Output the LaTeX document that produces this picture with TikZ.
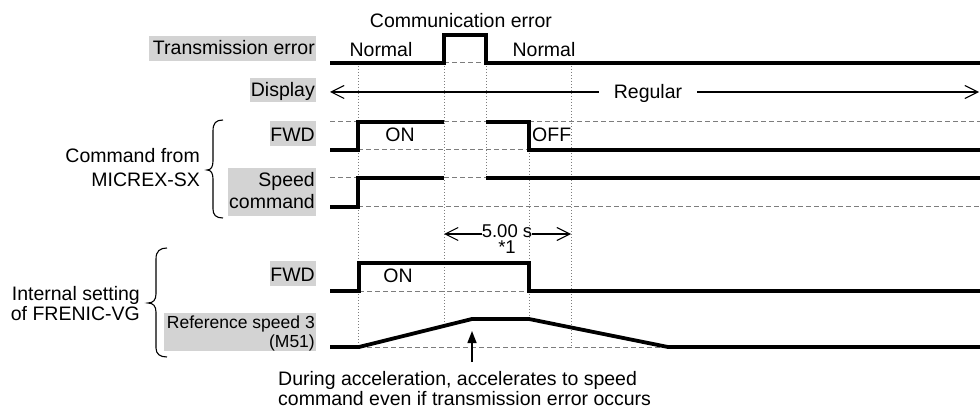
\documentclass[tikz,border=0pt]{standalone}
\usepackage{fontspec}
\setmainfont{Liberation Sans}
\usetikzlibrary{arrows.meta}
\definecolor{lbg}{RGB}{211,211,211}
\definecolor{dgray}{RGB}{125,125,125}
\begin{document}
\begin{tikzpicture}[x=1pt,y=-1pt,
  sig/.style={line width=3.8pt, line join=miter},
  refline/.style={dgray, line width=1pt, dash pattern=on 5pt off 3pt},
  guide/.style={dgray, line width=0.9pt, dash pattern=on 1pt off 2pt},
  txt/.style={font=\fontsize{19.5}{20}\selectfont, inner sep=0pt},
  stxt/.style={font=\fontsize{17.5}{19}\selectfont, inner sep=0pt},
  barb/.style={line width=1.1pt, -{Straight Barb[length=13pt,width=13pt,line width=1.1pt]}},
  bracestyle/.style={line width=1.1pt}]
\useasboundingbox (0,0) rectangle (980,414);

% label backgrounds
\fill[lbg] (149,36) rectangle (316,61);
\fill[lbg] (250,78) rectangle (316,102);
\fill[lbg] (270,121) rectangle (316,146);
\fill[lbg] (228,168) rectangle (316,216);
\fill[lbg] (270,261) rectangle (316,286);
\fill[lbg] (164,313) rectangle (316,351);

% row labels
\node[txt, anchor=base east] (lte) at (315,55) {Transmission error};
\node[txt, anchor=base east] (ldisp) at (315,97) {Display};
\node[txt, anchor=base east] (lfwd1) at (315,142) {FWD};
\node[txt, anchor=base east] (lsp1) at (315,187) {Speed};
\node[txt, anchor=base east] (lsp2) at (315,209) {command};
\node[txt, anchor=base east] (lfwd2) at (315,281) {FWD};
\node[stxt, anchor=base east] (lref1) at (315,328) {Reference speed 3};
\node[stxt, anchor=base east] (lref2) at (315,347) {(M51)};

% group labels
\node[txt, anchor=base east] (gc1) at (200,163) {Command from};
\node[txt, anchor=base east] (gc2) at (200,187) {MICREX-SX};
\node[txt, anchor=base east] (gi1) at (140,300) {Internal setting};
\node[txt, anchor=base east] (gi2) at (140,320) {of FRENIC-VG};

% braces
\draw[bracestyle] (223,120) .. controls (216,120) and (213,123) .. (213,131) -- (213,161)
  .. controls (213,167) and (211,170) .. (207,170)
  .. controls (211,170) and (213,173) .. (213,179) -- (213,209)
  .. controls (213,215) and (216,218) .. (223,218);
\draw[bracestyle] (167,248) .. controls (160,248) and (156,251) .. (156,259) -- (156,294)
  .. controls (156,300) and (153,303) .. (148,303)
  .. controls (153,303) and (156,306) .. (156,312) -- (156,348)
  .. controls (156,354) and (160,357) .. (167,357);

% guide (dotted) vertical lines
\draw[guide] (358,63) -- (358,347);
\draw[guide] (444,63) -- (444,326);
\draw[guide] (486,63) -- (486,178);
\draw[guide] (529,150) -- (529,319);
\draw[guide] (571,63) -- (571,347);

% dashed reference levels
\draw[refline] (444,63) -- (486,63);
\draw[refline] (330,122) -- (358,122);
\draw[refline] (444,122) -- (486,122);
\draw[refline] (529,122) -- (980,122);
\draw[refline] (358,150) -- (529,150);
\draw[refline] (330,178) -- (358,178);
\draw[refline] (444,178) -- (486,178);
\draw[refline] (358,207) -- (980,207);
\draw[refline] (359,291) -- (529,291);
\draw[refline] (359,347) -- (668,347);

% signals
\draw[sig] (330,63) -- (444,63) -- (444,35) -- (486,35) -- (486,63) -- (980,63);
\draw[sig] (330,150) -- (358,150) -- (358,122) -- (444,122);
\draw[sig] (486,122) -- (529,122) -- (529,150) -- (980,150);
\draw[sig] (330,207) -- (358,207) -- (358,178) -- (444,178);
\draw[sig] (486,178) -- (980,178);
\draw[sig] (330,291) -- (359,291) -- (359,263) -- (529,263) -- (529,291) -- (980,291);
\draw[sig] (330,347) -- (359,347) -- (472,319) -- (529,319) -- (668,347) -- (980,347);

% signal texts
\node[txt, anchor=base] (comm) at (461,28) {Communication error};
\node[txt, anchor=base] (nrm1) at (381,57) {Normal};
\node[txt, anchor=base] (nrm2) at (544,57) {Normal};
\node[txt, anchor=base] (on1) at (400,142) {ON};
\node[txt, anchor=base west] (off1) at (532,142) {OFF};
\node[txt, anchor=base] (on2) at (398,282) {ON};

% display arrow
\node[txt, anchor=base, inner xsep=15pt] (reg) at (648,99) {Regular};
\coordinate (dl) at (330,92);
\coordinate (dr) at (979,92);
\draw[barb] (reg.west |- dl) -- (dl);
\draw[barb] (reg.east |- dr) -- (dr);

% 5.00 s timer
\node[font=\fontsize{18.5}{19}\selectfont, inner sep=0pt, anchor=base] (tmr) at (507,237) {5.00 s};
\node[font=\fontsize{18.5}{19}\selectfont, inner sep=0pt, anchor=base] (star) at (507,254) {*1};
\coordinate (tl) at (444,234);
\coordinate (tr) at (571,234);
\draw[barb] (tmr.west |- tl) -- (tl);
\draw[barb] (tmr.east |- tr) -- (tr);

% annotation
\coordinate (ptip) at (472,331);
\node[txt, anchor=base west] (note1) at (278,385) {During acceleration, accelerates to speed};
\node[txt, anchor=base west] (note2) at (278,405) {command even if transmission error occurs};
\coordinate (ptail) at (472,362);
\draw[line width=1.4pt, -{Triangle[length=12pt,width=9pt]}] (ptail) -- (ptip);
\end{tikzpicture}
\end{document}
